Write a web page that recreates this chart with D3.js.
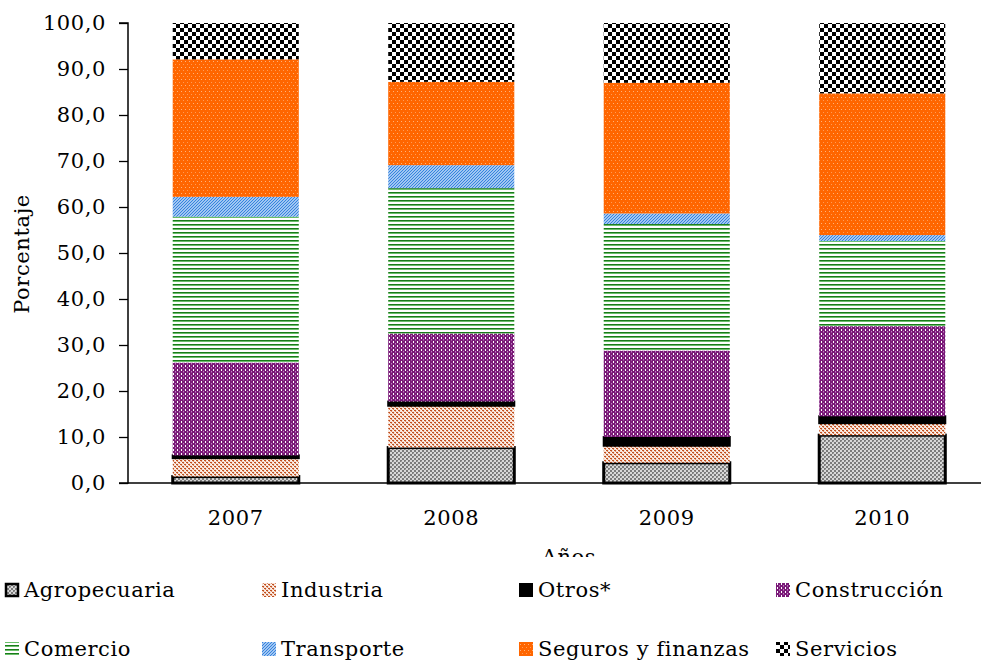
<!DOCTYPE html>
<html><head><meta charset="utf-8">
<script src="https://cdn.jsdelivr.net/npm/d3@7"></script>
<style>
html,body{margin:0;padding:0;background:#fff;}
svg{display:block;font-family:"DejaVu Serif",serif;}
</style></head>
<body><svg id="chart" width="981" height="661"></svg>
<script>
const years = ["2007","2008","2009","2010"];
const seriesNames = ["Agropecuaria","Industria","Otros*","Construcción","Comercio","Transporte","Seguros y finanzas","Servicios"];
const agropecuaria = [1.4, 7.7, 4.4, 10.4];
const industria    = [4.0, 9.1, 3.7, 2.6];
const otros        = [0.6, 0.9, 1.9, 1.5];
const construccion = [20.2, 14.8, 18.8, 19.6];
const comercio     = [31.7, 31.6, 27.5, 18.5];
const transporte   = [4.3, 5.0, 2.3, 1.3];
const seguros      = [29.9, 18.1, 28.4, 30.8];
const servicios    = [7.9, 12.8, 13.0, 15.3];
const yTicks = [0,10,20,30,40,50,60,70,80,90,100];

const seriesValues = [agropecuaria, industria, otros, construccion, comercio, transporte, seguros, servicios];
const keys = ["agro","ind","otros","cons","com","tra","seg","ser"];
const table = years.map((y,i)=>{ const o={year:y}; keys.forEach((k,j)=>o[k]=seriesValues[j][i]); return o; });

const FS = 21, LS = 0.6;
const svg = d3.select("#chart");
const defs = svg.append("defs");
function pat(id,w,h,bg,rects){
  const p = defs.append("pattern").attr("id",id).attr("patternUnits","userSpaceOnUse").attr("width",w).attr("height",h);
  if(bg) p.append("rect").attr("width",w).attr("height",h).attr("fill",bg);
  rects.forEach(r=>p.append("rect").attr("x",r[0]).attr("y",r[1]).attr("width",r[2]).attr("height",r[3]).attr("fill",r[4]));
}
pat("p-agro",4,4,"#d8d8d8",[[0,0,2,2,"#7a7a7a"],[2,2,2,2,"#7a7a7a"],[1,1,1,1,"#a0a0a0"]]);
pat("p-ind",4,4,"#f6e0d4",[[0,0,2,1,"#c0501f"],[2,2,2,1,"#c0501f"],[1,1,1,1,"#e09070"],[3,3,1,1,"#e09070"],[3,0,1,1,"#ffffff"],[1,2,1,1,"#ffffff"]]);
pat("p-cons",4,4,"#7a1a78",[[1,1,1,2,"#ffffff"],[3,3,1,1,"#c080c0"],[3,0,1,1,"#a050a0"]]);
pat("p-com",4,4,"#ffffff",[[0,0,4,1,"#1a7a1a"],[0,1,4,1,"#6abf6a"]]);
defs.append("pattern").attr("id","p-tra").attr("patternUnits","userSpaceOnUse").attr("width",3).attr("height",3)
  .call(p=>{p.append("rect").attr("width",3).attr("height",3).attr("fill","#cfe3fb");
    p.append("path").attr("d","M-1,1 L1,-1 M0,3 L3,0 M2,4 L4,2").attr("stroke","#2f7fdc").attr("stroke-width",1.1);});
pat("p-seg",4,6,"#ff6600",[[1,1,1,1,"#ffb27a"],[3,4,1,1,"#ff9a55"]]);
pat("p-ser",8,8,"#ffffff",[[0,0,4,4,"#000"],[4,4,4,4,"#000"]]);

const fills = {agro:"url(#p-agro)",ind:"url(#p-ind)",otros:"#000",cons:"url(#p-cons)",com:"url(#p-com)",tra:"url(#p-tra)",seg:"url(#p-seg)",ser:"url(#p-ser)"};

const x0 = 128, x1 = 990, yTop = 23, yBot = 483;
const x = d3.scaleBand().domain(years).range([x0,x1]).paddingInner(0.415).paddingOuter(0.2075);
const y = d3.scaleLinear().domain([0,100]).range([yBot,yTop]);

const stack = d3.stack().keys(keys)(table);
const g = svg.append("g");
stack.forEach(layer=>{
  const k = layer.key;
  g.selectAll(null).data(layer).enter().append("rect")
    .attr("x",d=>x(d.data.year)).attr("width",x.bandwidth())
    .attr("y",d=>y(d[1])).attr("height",d=>y(d[0])-y(d[1]))
    .attr("fill",fills[k])
    .attr("stroke",(k==="agro"||k==="otros")?"#000":"none")
    .attr("stroke-width",k==="agro"?3:(k==="otros"?2:0));
});

// y axis
const yAxis = d3.axisLeft(y).tickValues(yTicks).tickSize(9).tickPadding(13)
  .tickFormat(d=>d3.format(".1f")(d).replace(".",","));
const ya = svg.append("g").attr("transform",`translate(${x0},0)`).call(yAxis);
ya.select(".domain").attr("stroke","#000").attr("stroke-width",1.5).attr("d",`M-9,${yTop}H0V${yBot}H-9`);
ya.selectAll(".tick line").attr("stroke","#000").attr("stroke-width",1.3);
ya.selectAll("text").attr("font-family","DejaVu Serif").attr("font-size",FS).attr("letter-spacing",LS).attr("fill","#000");

// x axis
const xAxis = d3.axisBottom(x).tickSize(0).tickPadding(27);
const xa = svg.append("g").attr("transform",`translate(0,${yBot})`).call(xAxis);
xa.select(".domain").attr("stroke","#000").attr("stroke-width",1.5).attr("d",`M${x0},0H${x1}`);
xa.selectAll("text").attr("font-family","DejaVu Serif").attr("font-size",FS).attr("letter-spacing",LS).attr("fill","#000");

svg.append("text").attr("transform","translate(29,254) rotate(-90)").attr("text-anchor","middle")
  .attr("font-size",FS).attr("letter-spacing",LS).text("Porcentaje");
svg.append("text").attr("x",569).attr("y",564).attr("text-anchor","middle").attr("font-size",FS).attr("letter-spacing",LS).text("Años");
svg.append("rect").attr("x",0).attr("y",557).attr("width",981).attr("height",104).attr("fill","#fff");

// legend
const legPos = [[5,590],[262,590],[519,590],[776,590],[5,649],[262,649],[519,649],[776,649]];
const leg = svg.append("g");
keys.forEach((k,i)=>{
  const [lx,ly] = legPos[i];
  const s = leg.append("g").attr("transform",`translate(${lx},${ly})`);
  if(k==="agro"){
    s.append("rect").attr("x",1).attr("y",-6).attr("width",12).attr("height",12).attr("fill",fills[k]).attr("stroke","#000").attr("stroke-width",2.5);
  } else {
    s.append("rect").attr("x",0).attr("y",-7).attr("width",14).attr("height",14).attr("fill",fills[k]);
  }
  s.append("text").attr("x",19).attr("y",7).attr("font-size",FS).attr("letter-spacing",LS).text(seriesNames[i]);
});
</script></body></html>
